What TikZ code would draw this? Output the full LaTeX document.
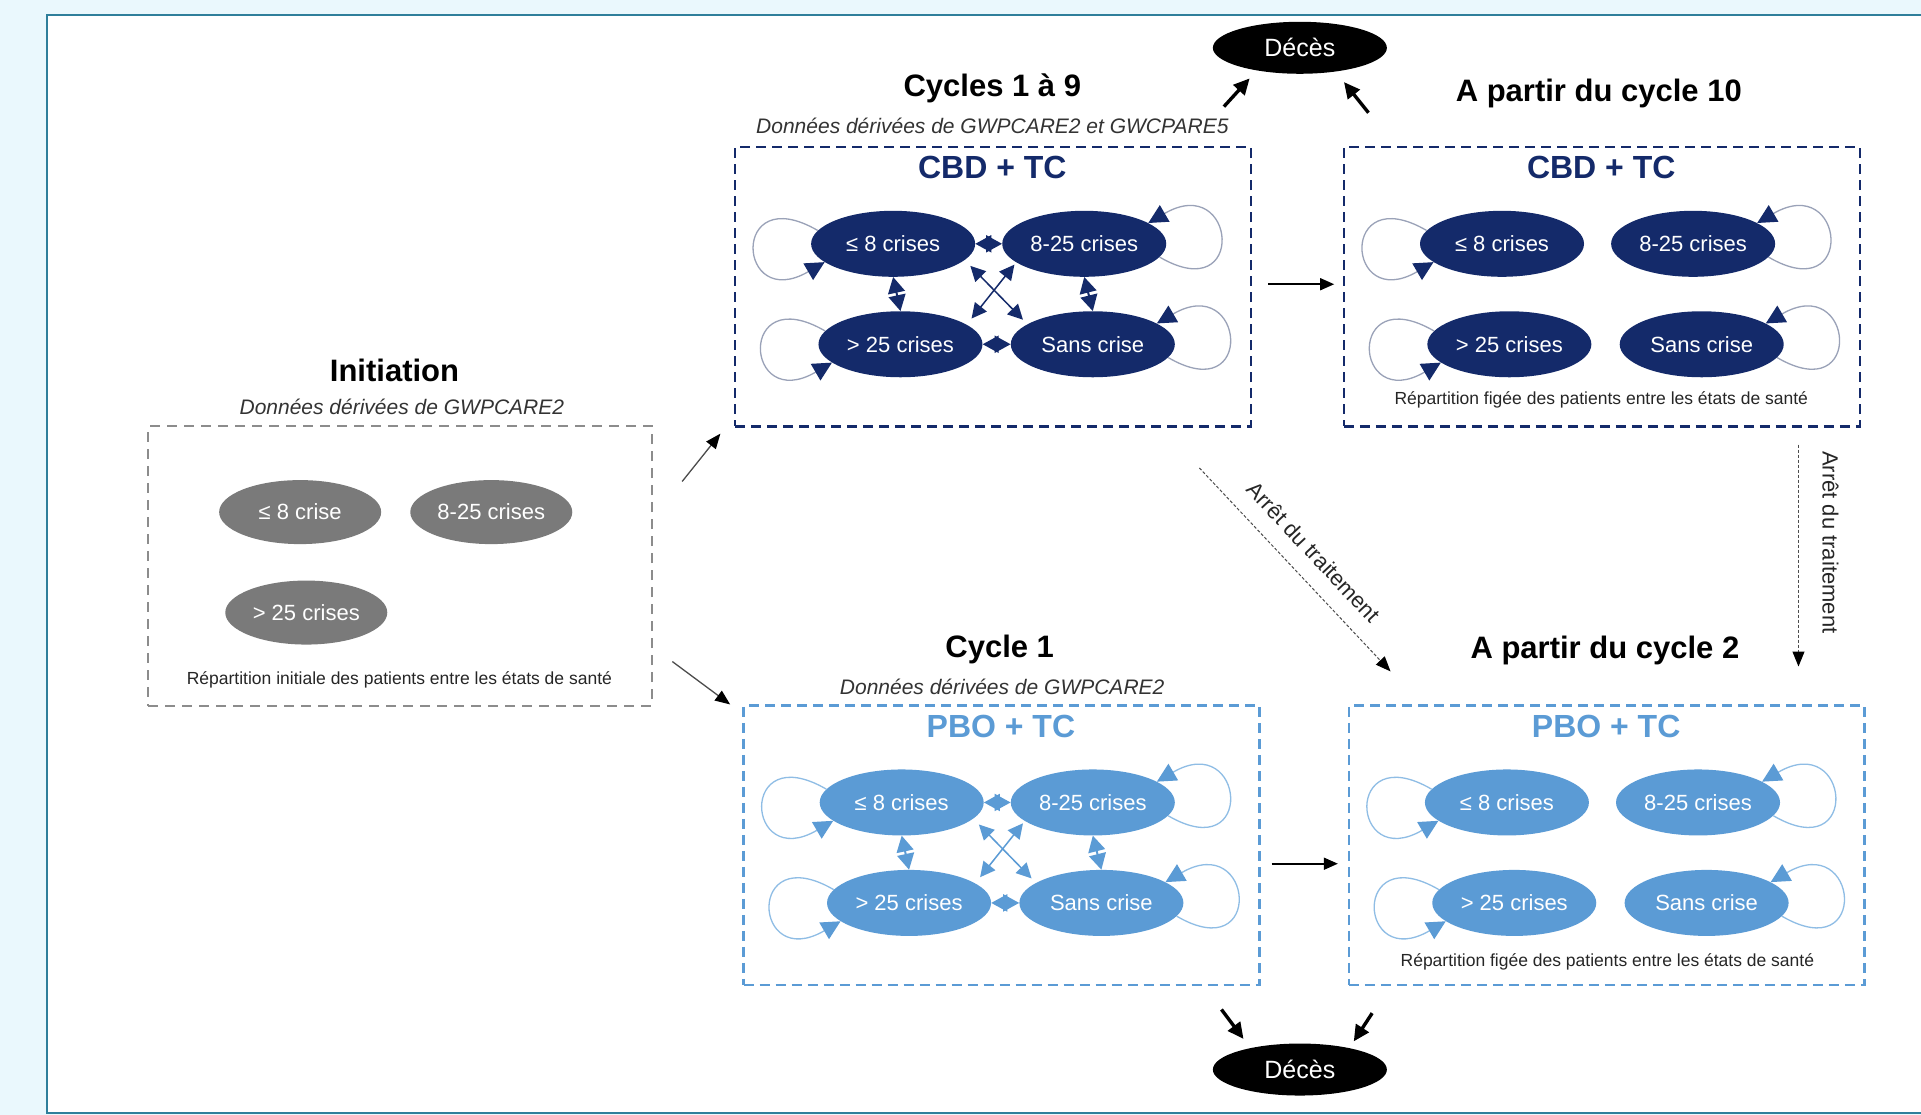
\documentclass[tikz,border=0pt]{standalone}
\usepackage{fontspec}
\setmainfont{Liberation Sans}
\usetikzlibrary{arrows.meta,shapes.geometric,calc}
\definecolor{navy}{HTML}{142A6A}
\definecolor{lblue}{HTML}{5B9BD5}
\definecolor{navyloop}{HTML}{9AA2B8}
\definecolor{lblueloop}{HTML}{8FBDE5}
\definecolor{gstate}{HTML}{7A7A7A}
\definecolor{gbox}{HTML}{8C8C8C}
\definecolor{bgcyan}{HTML}{EAF8FD}
\definecolor{framec}{HTML}{2F7F9B}
\newcommand{\fsz}[1]{\fontsize{#1}{#1}\selectfont}
\newcommand{\statebox}[6]{%
  \begin{scope}[shift={(#2,#3)},name prefix=#1-]
    \node[sbox,draw=#4] (box) at (210.5,114) {};
    \node[hd,text=#4] (t) at (210,17) {#6};
    \node[st,fill=#4] (a) at (129,79) {≤ 8 crises};
    \node[st,fill=#4] (b) at (285,79) {8-25 crises};
    \node[st,fill=#4] (c) at (135,161) {> 25 crises};
    \node[st,fill=#4] (d) at (292,161) {Sans crise};
    \draw[selfloop,draw=#5,-{Triangle[length=19pt,width=19pt,color=#4]}] (a.170) .. controls +(-72,-42) and +(-72,42) .. (a.195);
    \draw[selfloop,draw=#5,-{Triangle[length=19pt,width=19pt,color=#4]}] (c.170) .. controls +(-72,-42) and +(-72,42) .. (c.195);
    \draw[selfloop,draw=#5,-{Triangle[length=19pt,width=19pt,color=#4]}] (b.-10) .. controls +(72,42) and +(72,-42) .. (b.18);
    \draw[selfloop,draw=#5,-{Triangle[length=19pt,width=19pt,color=#4]}] (d.-10) .. controls +(72,42) and +(72,-42) .. (d.18);
  \end{scope}}
\newcommand{\transit}[4]{%
  \begin{scope}[shift={(#2,#3)},name prefix=#1-]
    \coordinate (p1) at (192,97);
    \coordinate (p2) at (235,141);
    \coordinate (p3) at (228,96);
    \coordinate (p4) at (193,140);
    \draw[bidi,draw=#4] (a.east) -- (b.west);
    \draw[bidi,draw=#4] (c.east) -- (d.west);
    \draw[bidi,draw=#4] (a.south) -- (c.north);
    \draw[bidi,draw=#4] (b.south) -- (d.north);
    \draw[diag,draw=#4] (p1) -- (p2);
    \draw[diag,draw=#4] (p3) -- (p4);
  \end{scope}}
\begin{document}
\begin{tikzpicture}[x=1.2251pt,y=-1.2251pt,
  st/.style={ellipse,minimum width=164pt,minimum height=66pt,inner sep=0pt,text=white,font=\fsz{22}},
  gst/.style={ellipse,minimum width=162pt,minimum height=64pt,inner sep=0pt,text=white,fill=gstate,font=\fsz{22}},
  sbox/.style={rectangle,line width=2.4pt,dash pattern=on 10pt off 6pt,minimum width=515.8pt,minimum height=279.3pt,inner sep=0pt},
  hd/.style={font=\bfseries\fsz{32}},
  ttl/.style={font=\bfseries\fsz{31}},
  sub/.style={font=\itshape\fsz{21},text=black!80},
  note/.style={font=\fsz{17.5},text=black!85},
  selfloop/.style={line width=1.3pt},
  bidi/.style={line width=2pt,{Triangle[length=16pt,width=17pt]}-{Triangle[length=16pt,width=17pt]}},
  diag/.style={line width=1.5pt,{Triangle[length=15pt,width=15pt]}-{Triangle[length=15pt,width=15pt]}},
  blk/.style={line width=1.6pt,black,-{Triangle[length=14pt,width=12pt]}},
  ini/.style={line width=1.3pt,black!70,-{Triangle[length=15pt,width=12pt,color=black]}},
  thk/.style={line width=3.4pt,black,-{Triangle[length=16pt,width=15pt]}},
  stop/.style={line width=1pt,black!70,dash pattern=on 3pt off 2pt,-{Triangle[length=15pt,width=12pt,color=black]}},
  dc/.style={ellipse,fill=black,text=white,minimum width=174pt,minimum height=52pt,inner sep=0pt,font=\fsz{25}}
]
\useasboundingbox (0,0) rectangle (1568,910);
\fill[bgcyan] (0,0) rectangle (1568,910);
\fill[white] (38,12) rectangle (1580,908.5);
\draw[framec,line width=2pt] (1580,12) -- (38,12) -- (38,908.5) -- (1580,908.5);

% Initiation
\node[ttl] (tinit) at (322,302) {Initiation};
\node[sub] (sinit) at (328,332) {Données dérivées de GWPCARE2};
\node[rectangle,draw=gbox,line width=2pt,dash pattern=on 10pt off 7pt,minimum width=503.5pt,minimum height=279.3pt,inner sep=0pt] (init) at (326.5,462) {};
\node[gst] (i1) at (245,418) {≤ 8 crise};
\node[gst] (i2) at (401,418) {8-25 crises};
\node[gst] (i3) at (250,500) {> 25 crises};
\node[note] (ninit) at (326,555) {Répartition initiale des patients entre les états de santé};

% state boxes
\statebox{c19}{600}{120}{navy}{navyloop}{CBD + TC}
\transit{c19}{600}{120}{navy}
\statebox{c10}{1097}{120}{navy}{navyloop}{CBD + TC}
\statebox{c1}{607}{576}{lblue}{lblueloop}{PBO + TC}
\transit{c1}{607}{576}{lblue}
\statebox{c2}{1101}{576}{lblue}{lblueloop}{PBO + TC}

\node[ttl] (t19) at (810,72) {Cycles 1 à 9};
\node[sub] (s19) at (810,103) {Données dérivées de GWPCARE2 et GWCPARE5};
\node[ttl] (t10) at (1305,76) {A partir du cycle 10};
\node[note] (n10) at (1307,326) {Répartition figée des patients entre les états de santé};
\node[ttl] (t1) at (816,530) {Cycle 1};
\node[sub] (s1) at (818,561) {Données dérivées de GWPCARE2};
\node[ttl] (t2) at (1310,531) {A partir du cycle 2};
\node[note] (n2) at (1312,785) {Répartition figée des patients entre les états de santé};

% Deces
\node[dc] (dtop) at (1061,39) {Décès};
\node[dc] (dbot) at (1061,873) {Décès};

% connectors
\draw[ini] ($(init.east)+(24,-69)$) -- ($(c19-box.south west)+(-11,5)$);
\draw[ini] ($(init.east)+(16,78)$) -- ($(c1-box.north west)+(-10,0)$);
\draw[blk] ($(c19-box.east)+(13,-2)$) -- ($(c10-box.west)+(-7,-2)$);
\draw[blk] ($(c1-box.east)+(9,15)$) -- ($(c2-box.west)+(-8,15)$);
\draw[thk] ($(c19-box.north east)+(-23,-32)$) -- ($(dtop.center)+(-41,25)$);
\draw[thk] ($(c10-box.north west)+(21,-27)$) -- ($(dtop.center)+(36,28)$);
\draw[thk] ($(c1-box.south east)+(-32,19)$) -- ($(dbot.center)+(-46,-25)$);
\draw[thk] ($(c2-box.south west)+(20,22)$) -- ($(dbot.center)+(44,-23)$);
\draw[stop] ($(c19-box.south east)+(-43,33)$) -- node[pos=0.5,sloped,above=14pt,font=\fsz{22},text=black!85] {Arrêt du traitement} ($(c2-box.north west)+(35,-27)$);
\draw[stop] ($(c10-box.south east)+(-51,14)$) -- node[pos=0.44,sloped,above=20pt,font=\fsz{22},text=black!85] {Arrêt du traitement} ($(c2-box.north east)+(-55,-31)$);
\end{tikzpicture}
\end{document}
